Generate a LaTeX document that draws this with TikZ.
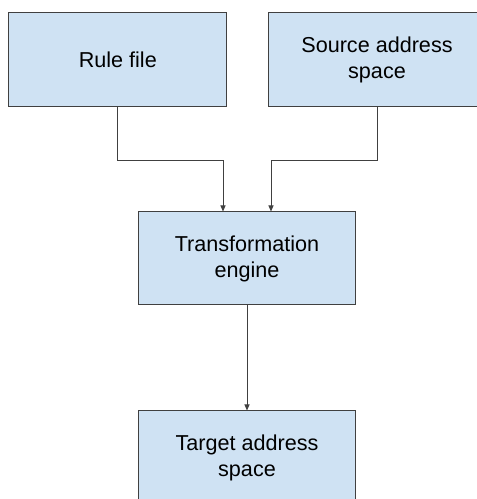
\documentclass[tikz,border=0pt]{standalone}
\usepackage{fontspec}
\setmainfont{Liberation Sans}
\usetikzlibrary{arrows.meta}
\definecolor{boxfill}{HTML}{CFE2F3}
\definecolor{boxline}{HTML}{404040}
\tikzset{
  block/.style={draw=boxline, fill=boxfill, line width=1pt, inner sep=0pt,
    minimum width=218pt, minimum height=94pt, align=center,
    font=\fontsize{21.6pt}{26pt}\selectfont},
  link/.style={draw=boxline, line width=0.9pt, -{Triangle[length=6pt,width=5pt]}}
}
\begin{document}
\begin{tikzpicture}[x=1pt,y=1pt]
  \useasboundingbox (0,0) rectangle (477,499);
  \clip (0,0) rectangle (477,499);
  % input boxes
  \node[block] (rule) at (117.8,439.5) {Rule file};
  \node[block] (src) at (377,439.5) {Source address\\space};
  % processing and output
  \node[block, minimum width=217pt, minimum height=93pt] (eng) at (247,240.5) {Transformation\\engine};
  \node[block, minimum width=217pt, minimum height=93pt] (tgt) at (247,41.5) {Target address\\space};
  % connectors
  \draw[link] (rule.south) -- ++(0,-53.5) -| ([xshift=-24pt]eng.north);
  \draw[link] (src.south) -- ++(0,-53.5) -| ([xshift=24pt]eng.north);
  \draw[link] (eng.south) -- (tgt.north);
\end{tikzpicture}
\end{document}
